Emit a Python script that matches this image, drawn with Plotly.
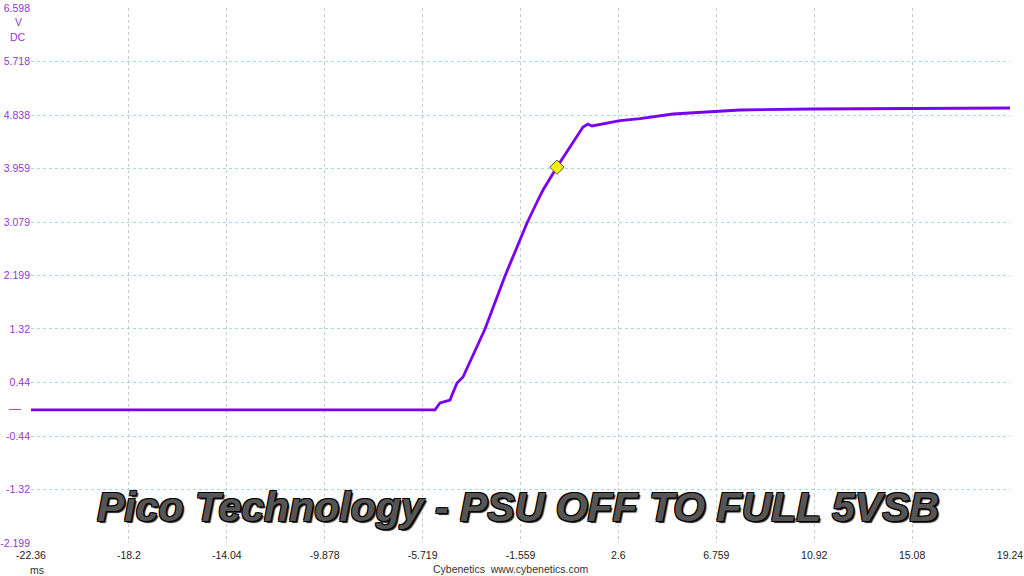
import plotly.graph_objects as go

# ---- data ----
time_ms = [-22.36, -5.193, -4.981, -4.556, -4.471, -4.258, -4.003, -3.069, -2.219,
           -1.284, -0.817, -0.604, -0.009, 1.096, 1.308, 1.478, 2.668, 3.518, 4.920,
           6.365, 7.767, 10.869, 14.566, 19.24]
voltage_v = [-0.01, -0.01, 0.103, 0.152, 0.235, 0.432, 0.530, 1.320, 2.191,
             3.063, 3.441, 3.605, 3.984, 4.641, 4.691, 4.658, 4.745, 4.778, 4.855,
             4.888, 4.921, 4.937, 4.945, 4.954]

marker_t = [-0.01]
marker_v = [3.98]

x_ticks = [-22.36, -18.2, -14.04, -9.878, -5.719, -1.559, 2.6, 6.759, 10.92, 15.08, 19.24]
x_tick_text = ["-22.36", "-18.2", "-14.04", "-9.878", "-5.719", "-1.559", "2.6", "6.759",
               "10.92", "15.08", "19.24"]
y_ticks = [-2.199, -1.32, -0.44, 0.44, 1.32, 2.199, 3.079, 3.959, 4.838, 5.718, 6.598]
y_tick_text = ["-2.199", "-1.32", "-0.44", "0.44", "1.32", "2.199", "3.079", "3.959",
               "4.838", "5.718", "6.598"]

title_text = "Pico Technology - PSU OFF TO FULL 5VSB"
footer_text = "Cybenetics  www.cybenetics.com"

PURPLE = "#7a00f0"
LABEL_PURPLE = "#9038d0"

fig = go.Figure()
fig.add_trace(go.Scatter(x=time_ms, y=voltage_v, mode="lines",
                         line=dict(color=PURPLE, width=2.8), hoverinfo="skip"))
fig.add_trace(go.Scatter(x=marker_t, y=marker_v, mode="markers",
                         marker=dict(symbol="diamond", size=11, color="#f2f200",
                                     line=dict(color="#505050", width=1)),
                         hoverinfo="skip"))

fig.update_layout(
    width=1024, height=576,
    margin=dict(l=31, r=14, t=8, b=33, pad=0),
    paper_bgcolor="white", plot_bgcolor="white",
    showlegend=False,
    font=dict(family="Liberation Sans, Arial, sans-serif", size=11, color="#222"),
    xaxis=dict(range=[-22.36, 19.24], tickvals=x_ticks, ticktext=x_tick_text,
               automargin=False, ticklabeloverflow="allow", ticklabelstandoff=4,
               showgrid=True, gridcolor="#c4cccc", griddash="3px,3px", gridwidth=1,
               zeroline=False, showline=False, ticks="", ticklen=0,
               tickfont=dict(size=10.5, color="#222")),
    yaxis=dict(range=[-2.199, 6.598], tickvals=y_ticks, ticktext=y_tick_text,
               automargin=False, ticklabeloverflow="allow",
               showgrid=True, gridcolor="#9fdede", griddash="3px,3px", gridwidth=1,
               zeroline=False, showline=False, ticks="", ticklen=0,
               tickfont=dict(size=10.5, color=LABEL_PURPLE)),
)

annotations = [
    dict(text=title_text, xref="paper", yref="paper", x=0.497, y=0.067,
         xanchor="center", yanchor="middle", showarrow=False,
         font=dict(family="Liberation Sans, Arial, sans-serif", size=41,
                   color="#555555", weight="bold", style="italic",
                   shadow="1px 1px 0 #000, -1px -1px 0 #000, 1px -1px 0 #000, -1px 1px 0 #000, 2px 2px 1px #222")),
    dict(text=footer_text, xref="paper", yref="paper", x=0.49, y=-0.0486,
         xanchor="center", yanchor="middle", showarrow=False,
         font=dict(size=10.5, color="#333")),
    dict(text="ms", xref="paper", yref="paper", x=0.006, y=-0.05,
         xanchor="center", yanchor="middle", showarrow=False,
         font=dict(size=10.5, color="#333")),
    dict(text="V", xref="paper", yref="paper", x=-0.0132, y=0.974,
         xanchor="center", yanchor="middle", showarrow=False,
         font=dict(size=10.5, color=LABEL_PURPLE)),
    dict(text="DC", xref="paper", yref="paper", x=-0.0132, y=0.946,
         xanchor="center", yanchor="middle", showarrow=False,
         font=dict(size=10.5, color=LABEL_PURPLE)),
    dict(text="—", xref="paper", yref="y", x=-0.016, y=0,
         xanchor="center", yanchor="middle", showarrow=False,
         font=dict(size=12, color="#a050e0")),
]
fig.update_layout(annotations=annotations)

fig.write_html("out.html",
               config={"displayModeBar": False},
               post_script="document.body.style.margin='0px';document.body.style.overflow='hidden';")
